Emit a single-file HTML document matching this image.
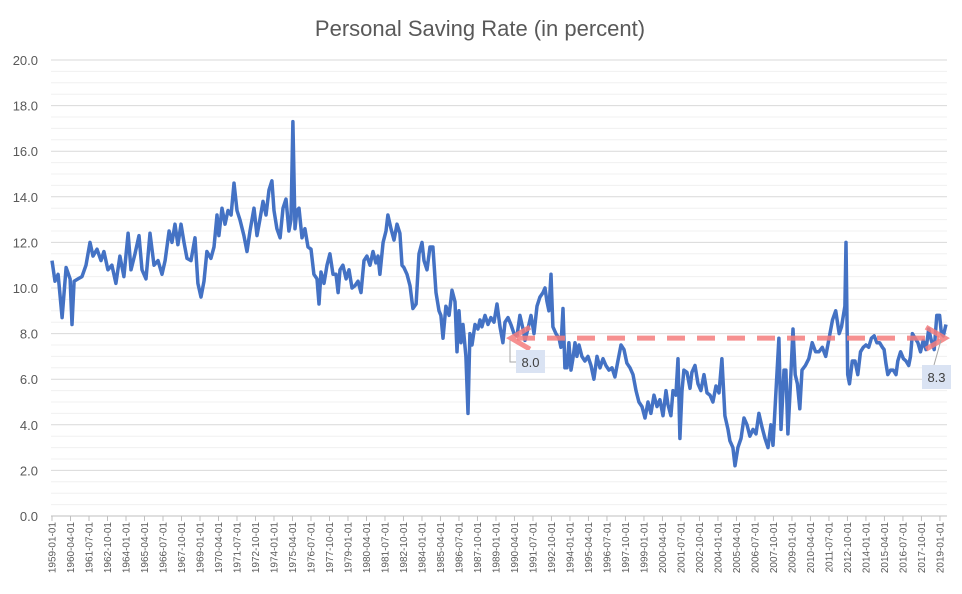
<!DOCTYPE html>
<html><head><meta charset="utf-8">
<style>
html,body{margin:0;padding:0;background:#fff;}
svg text{font-family:"Liberation Sans",sans-serif;}
</style></head>
<body>
<svg id="chart" width="962" height="589" viewBox="0 0 962 589" xmlns="http://www.w3.org/2000/svg">
<rect width="962" height="589" fill="#fff"/>
<text x="480" y="36" text-anchor="middle" font-size="22" fill="#595959">Personal Saving Rate (in percent)</text>
<g id="grid"></g><g id="yticks"></g><g id="xticks"></g><g id="series"></g><g id="annot"></g>
</svg>
<script>
const yTicks=[0,2,4,6,8,10,12,14,16,18,20];
const xLabels=["1959-01-01","1960-04-01","1961-07-01","1962-10-01","1964-01-01","1965-04-01","1966-07-01","1967-10-01","1969-01-01","1970-04-01","1971-07-01","1972-10-01","1974-01-01","1975-04-01","1976-07-01","1977-10-01","1979-01-01","1980-04-01","1981-07-01","1982-10-01","1984-01-01","1985-04-01","1986-07-01","1987-10-01","1989-01-01","1990-04-01","1991-07-01","1992-10-01","1994-01-01","1995-04-01","1996-07-01","1997-10-01","1999-01-01","2000-04-01","2001-07-01","2002-10-01","2004-01-01","2005-04-01","2006-07-01","2007-10-01","2009-01-01","2010-04-01","2011-07-01","2012-10-01","2014-01-01","2015-04-01","2016-07-01","2017-10-01","2019-01-01"];
const startYear=1959.0, endYear=2019.41;
const dates=[1959.00,1959.20,1959.41,1959.68,1959.95,1960.22,1960.35,1960.49,1960.76,1961.03,1961.30,1961.57,1961.77,1962.04,1962.31,1962.51,1962.78,1963.05,1963.32,1963.59,1963.86,1964.14,1964.34,1964.61,1964.88,1965.08,1965.35,1965.62,1965.89,1966.16,1966.43,1966.64,1966.91,1967.11,1967.31,1967.51,1967.72,1967.92,1968.12,1968.39,1968.66,1968.86,1969.07,1969.27,1969.47,1969.74,1969.95,1970.15,1970.28,1970.49,1970.69,1970.89,1971.10,1971.30,1971.50,1971.70,1971.97,1972.18,1972.38,1972.65,1972.85,1973.05,1973.26,1973.46,1973.66,1973.86,1974.00,1974.20,1974.41,1974.61,1974.81,1975.01,1975.15,1975.28,1975.42,1975.55,1975.69,1975.89,1976.09,1976.30,1976.50,1976.70,1976.91,1977.04,1977.18,1977.38,1977.58,1977.78,1977.99,1978.19,1978.33,1978.46,1978.66,1978.87,1979.07,1979.27,1979.47,1979.68,1979.88,1980.08,1980.28,1980.49,1980.69,1980.89,1981.03,1981.16,1981.37,1981.57,1981.70,1981.91,1982.11,1982.31,1982.51,1982.65,1982.78,1982.99,1983.19,1983.39,1983.60,1983.80,1984.00,1984.14,1984.34,1984.54,1984.74,1984.95,1985.15,1985.28,1985.42,1985.62,1985.83,1986.03,1986.23,1986.37,1986.50,1986.64,1986.77,1986.97,1987.11,1987.24,1987.38,1987.58,1987.78,1987.92,1988.05,1988.26,1988.46,1988.66,1988.87,1989.07,1989.27,1989.47,1989.61,1989.81,1990.01,1990.22,1990.42,1990.62,1990.83,1990.96,1991.16,1991.37,1991.57,1991.77,1991.97,1992.18,1992.31,1992.45,1992.58,1992.72,1992.85,1993.05,1993.26,1993.39,1993.53,1993.66,1993.80,1993.93,1994.07,1994.20,1994.34,1994.47,1994.61,1994.81,1995.01,1995.22,1995.42,1995.62,1995.83,1996.03,1996.23,1996.43,1996.64,1996.84,1997.04,1997.24,1997.45,1997.65,1997.85,1998.06,1998.26,1998.46,1998.66,1998.87,1999.07,1999.27,1999.47,1999.68,1999.88,2000.08,2000.29,2000.49,2000.62,2000.82,2000.96,2001.16,2001.30,2001.43,2001.57,2001.70,2001.91,2002.11,2002.24,2002.45,2002.65,2002.85,2003.06,2003.26,2003.46,2003.66,2003.87,2004.07,2004.27,2004.47,2004.68,2004.81,2005.01,2005.15,2005.35,2005.56,2005.76,2005.96,2006.16,2006.37,2006.57,2006.77,2006.98,2007.18,2007.38,2007.58,2007.72,2008.12,2008.26,2008.46,2008.59,2008.73,2008.86,2009.07,2009.22,2009.37,2009.53,2009.68,2009.91,2010.14,2010.37,2010.60,2010.82,2011.05,2011.28,2011.51,2011.74,2011.96,2012.19,2012.35,2012.58,2012.65,2012.77,2012.89,2013.08,2013.26,2013.45,2013.63,2013.82,2014.00,2014.19,2014.37,2014.56,2014.74,2014.92,2015.11,2015.23,2015.35,2015.48,2015.66,2015.85,2016.03,2016.15,2016.34,2016.53,2016.71,2016.89,2017.01,2017.14,2017.32,2017.51,2017.69,2017.87,2018.06,2018.24,2018.42,2018.61,2018.79,2018.98,2019.10,2019.23,2019.41];
const values=[11.2,10.3,10.6,8.7,10.9,10.4,8.4,10.3,10.4,10.5,11.0,12.0,11.4,11.7,11.2,11.6,10.8,11.0,10.2,11.4,10.5,12.4,10.8,11.5,12.3,10.8,10.4,12.4,11.0,11.2,10.6,11.2,12.5,12.0,12.8,11.9,12.8,12.0,11.3,11.2,12.2,10.2,9.6,10.3,11.6,11.3,11.8,13.2,12.3,13.5,12.8,13.4,13.2,14.6,13.4,13.0,12.3,11.6,12.5,13.5,12.3,13.0,13.8,13.2,14.3,14.7,13.4,12.6,12.2,13.5,13.9,12.5,13.0,17.3,12.6,13.4,13.5,12.2,12.6,11.8,11.7,10.6,10.4,9.3,10.7,10.2,11.0,11.5,10.6,10.6,9.8,10.8,11.0,10.4,10.8,10.0,10.1,10.3,9.8,11.2,11.4,11.0,11.6,11.1,11.4,10.6,12.0,12.5,13.2,12.6,12.1,12.8,12.4,11.0,10.9,10.6,10.1,9.1,9.3,11.5,12.0,11.2,10.8,11.8,11.8,9.8,9.0,8.8,7.8,9.2,8.8,9.9,9.4,7.2,9.0,7.6,8.4,7.0,4.5,8.0,7.5,8.4,8.2,8.6,8.3,8.8,8.4,8.7,8.5,9.3,8.3,7.6,8.5,8.7,8.4,8.0,7.9,8.8,8.2,7.7,8.2,8.8,8.0,9.2,9.6,9.8,10.0,9.4,9.0,10.6,8.3,8.0,7.8,7.4,9.1,6.5,6.5,7.6,6.4,6.9,7.6,7.0,7.5,7.0,6.8,7.0,6.6,6.0,7.0,6.5,6.9,6.6,6.4,6.5,6.1,6.8,7.5,7.3,6.7,6.5,6.2,5.5,5.0,4.8,4.3,5.0,4.5,5.3,4.8,5.1,4.4,5.5,4.9,4.4,5.5,5.3,6.9,3.4,5.5,6.4,6.3,5.6,6.3,6.6,5.8,5.5,6.2,5.4,5.3,5.0,5.7,5.4,6.9,4.4,3.8,3.3,3.0,2.2,3.0,3.4,4.3,4.0,3.5,3.8,3.6,4.5,3.9,3.4,3.0,4.0,3.1,7.8,3.8,6.4,6.4,3.6,5.3,8.2,6.2,5.8,4.7,6.4,6.6,6.9,7.6,7.2,7.2,7.4,7.0,7.8,8.6,9.0,8.0,8.3,9.2,12.0,6.2,5.8,6.8,6.8,6.2,7.2,7.4,7.5,7.4,7.8,7.9,7.6,7.6,7.4,7.3,6.7,6.2,6.4,6.4,6.2,6.8,7.2,6.9,6.8,6.6,7.0,8.0,7.8,7.6,7.2,7.7,7.3,8.2,7.7,7.3,8.8,8.8,8.0,7.9,8.4];
const refLevel=[7.8];
const annotValues=["8.0","8.3"];

const NS="http://www.w3.org/2000/svg";
const X0=51,X1=947,Y0=516,YTOP=60;
const yS=v=>Y0-(v-0)/20*(Y0-YTOP);
const xS=yr=>X0+1+(yr-startYear)/(endYear-startYear)*(X1-X0-2);
function mk(tag,attrs,parent){const e=document.createElementNS(NS,tag);for(const k in attrs)e.setAttribute(k,attrs[k]);parent.appendChild(e);return e;}
const grid=document.getElementById('grid'),yt=document.getElementById('yticks'),xt=document.getElementById('xticks'),ser=document.getElementById('series'),an=document.getElementById('annot');
for(let v=0.5;v<20;v+=0.5){if(v%2===0)continue;const l=mk('line',{x1:X0,x2:X1,y1:yS(v),y2:yS(v),stroke:'#f0f0f0','stroke-width':1},grid);

}
yTicks.forEach(v=>{const l=mk('line',{x1:X0,x2:X1,y1:yS(v),y2:yS(v),stroke:v===0?'#bfbfbf':'#d9d9d9','stroke-width':1},grid);


const t=mk('text',{x:38,y:yS(v)+5,'text-anchor':'end','font-size':13,fill:'#595959'},yt);t.textContent=v.toFixed(1);

});
xLabels.forEach(s=>{const p=s.split('-');const yr=+p[0]+(+p[1]-1)/12;const x=xS(yr);
const tk=mk('line',{x1:x,x2:x,y1:Y0,y2:Y0+5,stroke:'#bfbfbf'},xt);


const t=mk('text',{transform:`translate(${x+3.5},${Y0+6}) rotate(-90)`,'text-anchor':'end','font-size':10,fill:'#595959'},xt);t.textContent=s;

});
const pts=values.map((v,i)=>xS(dates[i]).toFixed(1)+','+yS(v).toFixed(1)).join(' ');
const line=mk('polyline',{points:pts,fill:'none',stroke:'#4472c4','stroke-width':3.5,'stroke-linejoin':'round'},ser);


const ry=yS(refLevel[0]);
const la=511,ra=945;
const dash=mk('line',{x1:la+6,x2:ra-6,y1:ry,y2:ry,stroke:'#f47c7c','stroke-opacity':0.85,'stroke-width':5,'stroke-dasharray':'18,12'},an);


const ah=mk('polyline',{points:`${la+19},${ry-11} ${la},${ry} ${la+19},${ry+11}`,fill:'none',stroke:'#f47c7c','stroke-opacity':0.85,'stroke-width':5},an);


const ah2=mk('polyline',{points:`${ra-19},${ry-11} ${ra},${ry} ${ra-19},${ry+11}`,fill:'none',stroke:'#f47c7c','stroke-opacity':0.85,'stroke-width':5},an);


const l1=mk('polyline',{points:`510,${ry+2} 510,362 516,362`,fill:'none',stroke:'#a6a6a6','stroke-width':1},an);


const b1=mk('rect',{x:516,y:350,width:29,height:23,fill:'#dae3f3'},an);


const t1=mk('text',{x:530.5,y:367,'text-anchor':'middle','font-size':13,fill:'#404040'},an);t1.textContent=annotValues[0];


const l2=mk('line',{x1:941,y1:ry+2,x2:934,y2:365,stroke:'#a6a6a6','stroke-width':1},an);


const b2=mk('rect',{x:922,y:365,width:29,height:24,fill:'#dae3f3'},an);


const t2=mk('text',{x:936.5,y:382,'text-anchor':'middle','font-size':13,fill:'#404040'},an);t2.textContent=annotValues[1];


</script>
</body></html>
